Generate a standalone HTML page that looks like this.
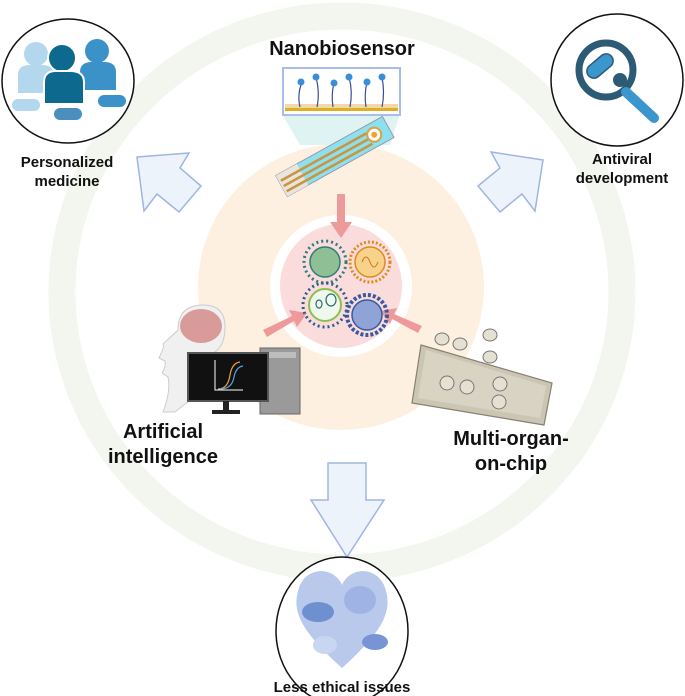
<!DOCTYPE html>
<html><head><meta charset="utf-8"><style>
html,body{margin:0;padding:0;background:#fff;}
svg{display:block;}
text{font-family:"Liberation Sans",sans-serif;font-weight:bold;fill:#111;}
</style></head><body>
<svg width="685" height="696" viewBox="0 0 685 696" xmlns="http://www.w3.org/2000/svg">
<!-- big green ring -->
<ellipse cx="342" cy="292" rx="280" ry="276" fill="none" stroke="#f2f6ee" stroke-width="27"/>
<!-- orange disc -->
<circle cx="341" cy="287" r="143" fill="#fdf0e0"/>
<!-- white/pink center -->
<circle cx="341" cy="286" r="71" fill="#fff"/>
<ellipse cx="341" cy="286" rx="61" ry="62" fill="#fbdcdc"/>

<!-- pink arrows -->
<g fill="#ee9a9a" stroke="none">
<rect x="337" y="194" width="8" height="30"/>
<polygon points="330,222 352,222 341,238"/>
<polygon points="263,330 292,316 289,310 307,313 297,327 294,321 267,337"/>
<polygon points="422,326 394,314 397,308 380,311 390,324 392,319 418,333"/>
</g>

<!-- viruses -->
<g>
<circle cx="325" cy="262" r="21" fill="none" stroke="#2e7d7a" stroke-width="3" stroke-dasharray="2 3"/>
<circle cx="325" cy="262" r="15" fill="#8fbf94" stroke="#2e7d7a" stroke-width="1.5"/>
<circle cx="370" cy="262" r="20" fill="none" stroke="#e08a1e" stroke-width="3" stroke-dasharray="2 2"/>
<circle cx="370" cy="262" r="15" fill="#f7d28a" stroke="#e08a1e" stroke-width="1.5"/>
<path d="M362 262 q4 -10 8 0 t8 0" stroke="#d07010" fill="none"/>
<circle cx="325" cy="305" r="22" fill="none" stroke="#2a5e8a" stroke-width="3" stroke-dasharray="2 3"/>
<circle cx="325" cy="305" r="16" fill="#eef8ee" stroke="#8cc04a" stroke-width="2"/>
<ellipse cx="331" cy="300" rx="5" ry="6" fill="none" stroke="#2a6e6a" stroke-width="1.2"/>
<ellipse cx="319" cy="304" rx="3" ry="4" fill="none" stroke="#2a6e6a" stroke-width="1.2"/>
<circle cx="367" cy="315" r="20" fill="none" stroke="#3a5aa0" stroke-width="4" stroke-dasharray="3 2"/>
<circle cx="367" cy="315" r="15" fill="#8fa3d6" stroke="#3a5aa0" stroke-width="1.5"/>
</g>

<!-- nanobiosensor -->
<text x="342" y="55" font-size="20" text-anchor="middle">Nanobiosensor</text>
<polygon points="282,114 400,114 390,145 300,145" fill="#dff3f2"/>
<rect x="283" y="68" width="117" height="47" fill="#fff" stroke="#a8bde8" stroke-width="2"/>
<rect x="285" y="104" width="113" height="6" fill="#f0d9a8"/>
<rect x="285" y="108" width="113" height="3" fill="#e2ad20"/>
<g stroke="#3a4a9a" stroke-width="1.2" fill="none">
<path d="M300 107 q-3-12 2-25"/><path d="M317 107 q3-14-1-30"/><path d="M333 107 q-2-12 1-24"/><path d="M350 107 q3-15-1-30"/><path d="M366 107 q-2-12 1-25"/><path d="M382 107 q3-14 0-30"/>
</g>
<g fill="#3a8ed6"><circle cx="301" cy="82" r="3.5"/><circle cx="316" cy="77" r="3.5"/><circle cx="334" cy="83" r="3.5"/><circle cx="349" cy="77" r="3.5"/><circle cx="367" cy="82" r="3.5"/><circle cx="382" cy="77" r="3.5"/></g>
<g transform="translate(334,157) rotate(-29)">
<rect x="-60" y="-12" width="122" height="24" fill="#8ee0ef" stroke="#99a" stroke-width="1"/>
<rect x="-60" y="-12" width="24" height="24" fill="#e9e4dc"/>
<g stroke="#c89640" stroke-width="2.5"><line x1="-58" y1="-5" x2="40" y2="-5"/><line x1="-58" y1="1" x2="40" y2="1"/><line x1="-58" y1="7" x2="40" y2="7"/></g>
<circle cx="46" cy="0" r="7" fill="#fff" stroke="#d9a240" stroke-width="2"/>
<circle cx="46" cy="0" r="3" fill="#f2a030"/>
</g>

<!-- big blue hollow arrows -->
<g fill="#edf3fb" stroke="#9fb5e2" stroke-width="1.5">
<polygon points="137,157 189,153 180,168 201,186 179,212 157,194 144,211"/>
<polygon points="543,160 491,152 500,168 478,186 500,212 522,194 535,211"/>
<polygon points="328,463 366,463 366,500 384,500 347,557 311,500 328,500"/>
</g>

<!-- personalized medicine circle -->
<ellipse cx="68" cy="81" rx="66" ry="62" fill="#fff" stroke="#111" stroke-width="1.5"/>
<g>
<circle cx="36" cy="54" r="12" fill="#b3d7ec"/><path d="M18 93 v-18 q0-10 12-10 h12 q12 0 12 10 v18z" fill="#b3d7ec"/>
<circle cx="97" cy="51" r="12" fill="#3a92c8"/><path d="M80 90 v-18 q0-10 12-10 h12 q12 0 12 10 v18z" fill="#3a92c8"/>
<circle cx="62" cy="58" r="14" fill="#0d6a8e" stroke="#fff" stroke-width="2"/><path d="M44 104 v-22 q0-11 12-11 h14 q14 0 14 11 v22z" fill="#0d6a8e" stroke="#fff" stroke-width="2"/>
<rect x="11" y="98" width="30" height="14" rx="7" fill="#b3d7ec" stroke="#fff" stroke-width="2"/>
<rect x="97" y="94" width="30" height="14" rx="7" fill="#3a92c8" stroke="#fff" stroke-width="2"/>
<rect x="53" y="107" width="30" height="14" rx="7" fill="#4a8fbd" stroke="#fff" stroke-width="2"/>
</g>
<text x="67" y="167" font-size="15" text-anchor="middle">Personalized</text>
<text x="67" y="186" font-size="15" text-anchor="middle">medicine</text>

<!-- antiviral circle -->
<ellipse cx="617" cy="80" rx="66" ry="66" fill="#fff" stroke="#111" stroke-width="1.5"/>
<circle cx="606" cy="70" r="27" fill="none" stroke="#2d5a74" stroke-width="7"/>
<line x1="626" y1="92" x2="654" y2="118" stroke="#3a96cc" stroke-width="10" stroke-linecap="round"/>
<g transform="translate(600,66) rotate(-40)"><rect x="-15" y="-7" width="30" height="14" rx="7" fill="#3a96cc" stroke="#2d5a74" stroke-width="1.5"/></g>
<circle cx="620" cy="80" r="7" fill="#2d5a74"/>
<text x="622" y="164" font-size="15" text-anchor="middle">Antiviral</text>
<text x="622" y="183" font-size="15" text-anchor="middle">development</text>

<!-- AI: head + computer -->
<path d="M178 330 q0-25 25-25 q22 0 22 22 q0 18 -10 25 v30 q-15 10 -40 30 h-12 q8-20 5-35 l-6 -4 q4-6 3-12 l-6-3 q6-12 4-14z" fill="#f0f0f0" stroke="#ccc" stroke-width="1"/>
<ellipse cx="201" cy="326" rx="21" ry="17" fill="#d99a9a"/>
<rect x="260" y="348" width="40" height="66" fill="#9a9a9a" stroke="#666"/>
<rect x="264" y="352" width="32" height="6" fill="#bdbdbd"/>
<rect x="188" y="353" width="80" height="48" fill="#111" stroke="#555" stroke-width="2"/>
<rect x="223" y="401" width="6" height="9" fill="#222"/><rect x="212" y="410" width="28" height="4" fill="#222"/>
<path d="M215 360 v30 h28" stroke="#fff" fill="none" stroke-width="1"/>
<path d="M218 389 q10 0 12-14 q2-12 10-13" stroke="#f0a040" fill="none" stroke-width="1.2"/>
<path d="M220 389 q12 0 14-12 q2-10 9-11" stroke="#5aa0e0" fill="none" stroke-width="1.2"/>
<text x="163" y="438" font-size="20" text-anchor="middle">Artificial</text>
<text x="163" y="463" font-size="20" text-anchor="middle">intelligence</text>

<!-- multi-organ-on-chip -->
<polygon points="421,345 552,383 544,425 412,403" fill="#cbc6b4" stroke="#888070" stroke-width="1.2"/>
<polygon points="426,350 546,386 540,418 418,398" fill="#d8d3c3"/>
<g fill="#e4e0d2" stroke="#777" stroke-width="1">
<circle cx="447" cy="383" r="7"/><circle cx="467" cy="387" r="7"/><circle cx="500" cy="384" r="7"/><circle cx="499" cy="402" r="7"/>
<ellipse cx="442" cy="339" rx="7" ry="6"/><ellipse cx="460" cy="344" rx="7" ry="6"/><ellipse cx="490" cy="335" rx="7" ry="6"/><ellipse cx="490" cy="357" rx="7" ry="6"/>
</g>
<text x="511" y="445" font-size="20" text-anchor="middle">Multi-organ-</text>
<text x="511" y="470" font-size="20" text-anchor="middle">on-chip</text>

<!-- bottom circle -->
<ellipse cx="342" cy="631" rx="66" ry="74" fill="#fff" stroke="#111" stroke-width="1.5"/>
<path d="M342 668 C300 630 290 610 300 585 C310 565 335 568 342 585 C349 568 374 565 384 585 C394 610 384 630 342 668z" fill="#b8c9ec"/>
<ellipse cx="318" cy="612" rx="16" ry="10" fill="#6e8fd0"/>
<ellipse cx="360" cy="600" rx="16" ry="14" fill="#9fb4e4"/>
<ellipse cx="325" cy="645" rx="12" ry="9" fill="#c8d6f2"/>
<ellipse cx="375" cy="642" rx="13" ry="8" fill="#7894d4"/>
<text x="342" y="692" font-size="15" text-anchor="middle">Less ethical issues</text>
</svg>
</body></html>
